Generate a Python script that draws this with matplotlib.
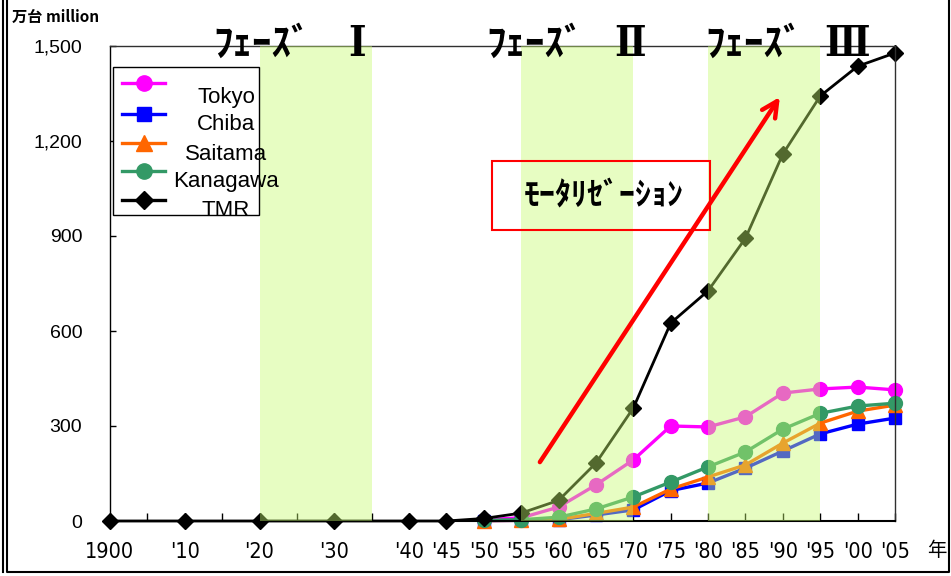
#python3

# car ownership in the Tokyo metropolitan region, 1900-2005
import numpy as np
import matplotlib.pyplot as plt
from matplotlib.patches import Rectangle
from matplotlib.lines import Line2D
from matplotlib import font_manager

# ---- data (万台, read per survey year) ----
years_early = [1900, 1910, 1920, 1930, 1940, 1945]
years = [1950, 1955, 1960, 1965, 1970, 1975, 1980, 1985, 1990, 1995, 2000, 2005]

tokyo = [4, 10, 44, 114, 193, 300, 297, 329, 404, 417, 423, 414]
chiba = [1, 2, 4, 19, 35, 96, 120, 167, 221, 275, 306, 325]
saitama = [1, 2, 5, 24, 44, 101, 139, 177, 246, 309, 347, 366]
kanagawa = [2, 4, 12, 38, 76, 123, 171, 218, 290, 340, 363, 372]
tmr_early = [0, 0, 0, 0, 0, 0]
tmr = [8, 25, 65, 183, 357, 625, 727, 893, 1159, 1342, 1436, 1478]

series_names = ['Tokyo', 'Chiba', 'Saitama', 'Kanagawa', 'TMR']
series_colors = ['#FF00FF', '#0000FF', '#FF6600', '#339966', '#000000']
series_markers = ['o', 's', '^', 'o', 'D']
series_msize = [10, 9, 10, 10, 8]

# phases (start, end year) and their labels
phases = [(1920, 1935), (1955, 1970), (1980, 1995)]
phase_word = 'ﾌｪｰｽﾞ'
phase_nums = ['Ⅰ', 'Ⅱ', 'Ⅲ']
phase_word_x = [1913.8, 1950.3, 1979.6]
phase_num_x = [1933.0, 1969.6, 1998.6]

# x tick labels
label_years = [1900, 1910, 1920, 1930, 1940, 1945] + years
yticks = [0, 300, 600, 900, 1200, 1500]

# ---- fonts ----
jp = ['Noto Sans CJK JP', 'DejaVu Sans']
names = {f.name for f in font_manager.fontManager.ttflist}
if 'Liberation Sans Narrow' in names:
    narrow = dict(fontfamily='Liberation Sans Narrow')
else:
    narrow = dict(fontfamily='DejaVu Sans', fontstretch='condensed')

W, H = 951, 576
fig = plt.figure(figsize=(W/100, H/100), dpi=100)
ax = fig.add_axes([110/W, 1-521/H, (895-110)/W, (521-46)/H])

def fx(px):
    return px/W

def fy(py):
    return 1 - py/H

# ---- series ----
all_years = years_early + years
data = [tokyo, chiba, saitama, kanagawa, tmr_early + tmr]
xs = [years, years, years, years, all_years]
for i in range(5):
    lw = 2.0 if i == 4 else 2.4
    ax.plot(xs[i], data[i], color=series_colors[i], lw=lw,
            marker=series_markers[i], ms=series_msize[i],
            mec=series_colors[i], mfc=series_colors[i], zorder=2+i*0.01,
            clip_on=False)

# phase bands sit on top of the lines (tinting them)
for (a, b) in phases:
    ax.axvspan(a, b, color=(200/255, 252/255, 111/255), alpha=0.42, lw=0, zorder=3)

for i in range(3):
    ax.text(phase_word_x[i], 1505, phase_word, fontfamily=jp, fontweight='bold',
            fontsize=28, ha='left', va='center', zorder=6, clip_on=False)
    ax.text(phase_num_x[i], 1507, phase_nums[i], fontfamily=['DejaVu Serif', 'Noto Sans CJK JP'],
            fontweight='bold', fontstretch='condensed', fontsize=30,
            ha='center', va='center', zorder=6, clip_on=False)

# motorization box + arrow
ax.add_patch(Rectangle((1951.1, 919), 29.2, 218, fill=False, ec='#FF0000', lw=1.5, zorder=5))
ax.text(1966.1, 1029, 'ﾓｰﾀﾘｾﾞｰｼｮﾝ', fontfamily=jp, fontweight='bold', fontsize=23,
        ha='center', va='center', zorder=6)
ax.annotate('', xy=(1989.6, 1339), xytext=(1957.5, 186),
            arrowprops=dict(arrowstyle='->', color='#FF0000', lw=3.2, mutation_scale=28,
                            shrinkA=0, shrinkB=0), zorder=5)

# ---- axes ----
ax.set_xlim(1900, 2005)
ax.set_ylim(0, 1500)
ticks = list(range(1900, 2006, 5))
ticklabels = []
for t in ticks:
    if t in label_years:
        ticklabels.append('1900' if t == 1900 else "'" + str(t)[2:])
    else:
        ticklabels.append('')
ax.set_xticks(ticks)
ax.set_xticklabels(ticklabels, fontsize=15.5, **narrow)
ax.tick_params(axis='x', direction='in', length=6, width=1, pad=15)

ax.set_yticks(yticks)
ax.set_yticklabels(['{:,}'.format(v) for v in yticks], fontfamily='Liberation Sans', fontsize=14)
ax.tick_params(axis='y', direction='in', length=4, width=1, pad=20)

for s in ['top', 'right']:
    ax.spines[s].set_color('#303030')
    ax.spines[s].set_linewidth(1)
ax.spines['left'].set_linewidth(1)
ax.spines['bottom'].set_linewidth(1.5)

# ---- legend box ----
fig.add_artist(Rectangle((fx(113), fy(215)), fx(259)-fx(113), fy(67)-fy(215),
                         transform=fig.transFigure, fc='white', ec='black', lw=1, zorder=7))
handle_y = [83, 114, 143, 171, 200]
text_y = [97, 124, 154, 182, 211]
for i in range(5):
    fig.add_artist(Line2D([fx(122), fx(143.5), fx(165)], [fy(handle_y[i])]*3,
                          transform=fig.transFigure, color=series_colors[i],
                          lw=2.4, marker=series_markers[i], ms=series_msize[i]+1,
                          markevery=[1], zorder=8))
    fig.text(fx(226), fy(text_y[i]), series_names[i], fontfamily='Liberation Sans',
             fontsize=16, ha='center', va='center', zorder=8)

# ---- labels and frame ----
fig.text(fx(12), fy(17), '万台 million', fontfamily=jp, fontweight='bold', fontsize=11,
         ha='left', va='center')
fig.text(fx(937), fy(550), '年', fontfamily=jp, fontsize=14, ha='center', va='center')

fig.add_artist(Line2D([fx(7), fx(7), fx(949), fx(949)], [1.01, fy(572), fy(572), 1.01],
                      transform=fig.transFigure, color='black', lw=1.5))
fig.add_artist(Line2D([fx(2.5), fx(2.5)], [1.01, fy(572)], transform=fig.transFigure,
                      color='black', lw=1.5))

plt.savefig('out.png', dpi=100)
